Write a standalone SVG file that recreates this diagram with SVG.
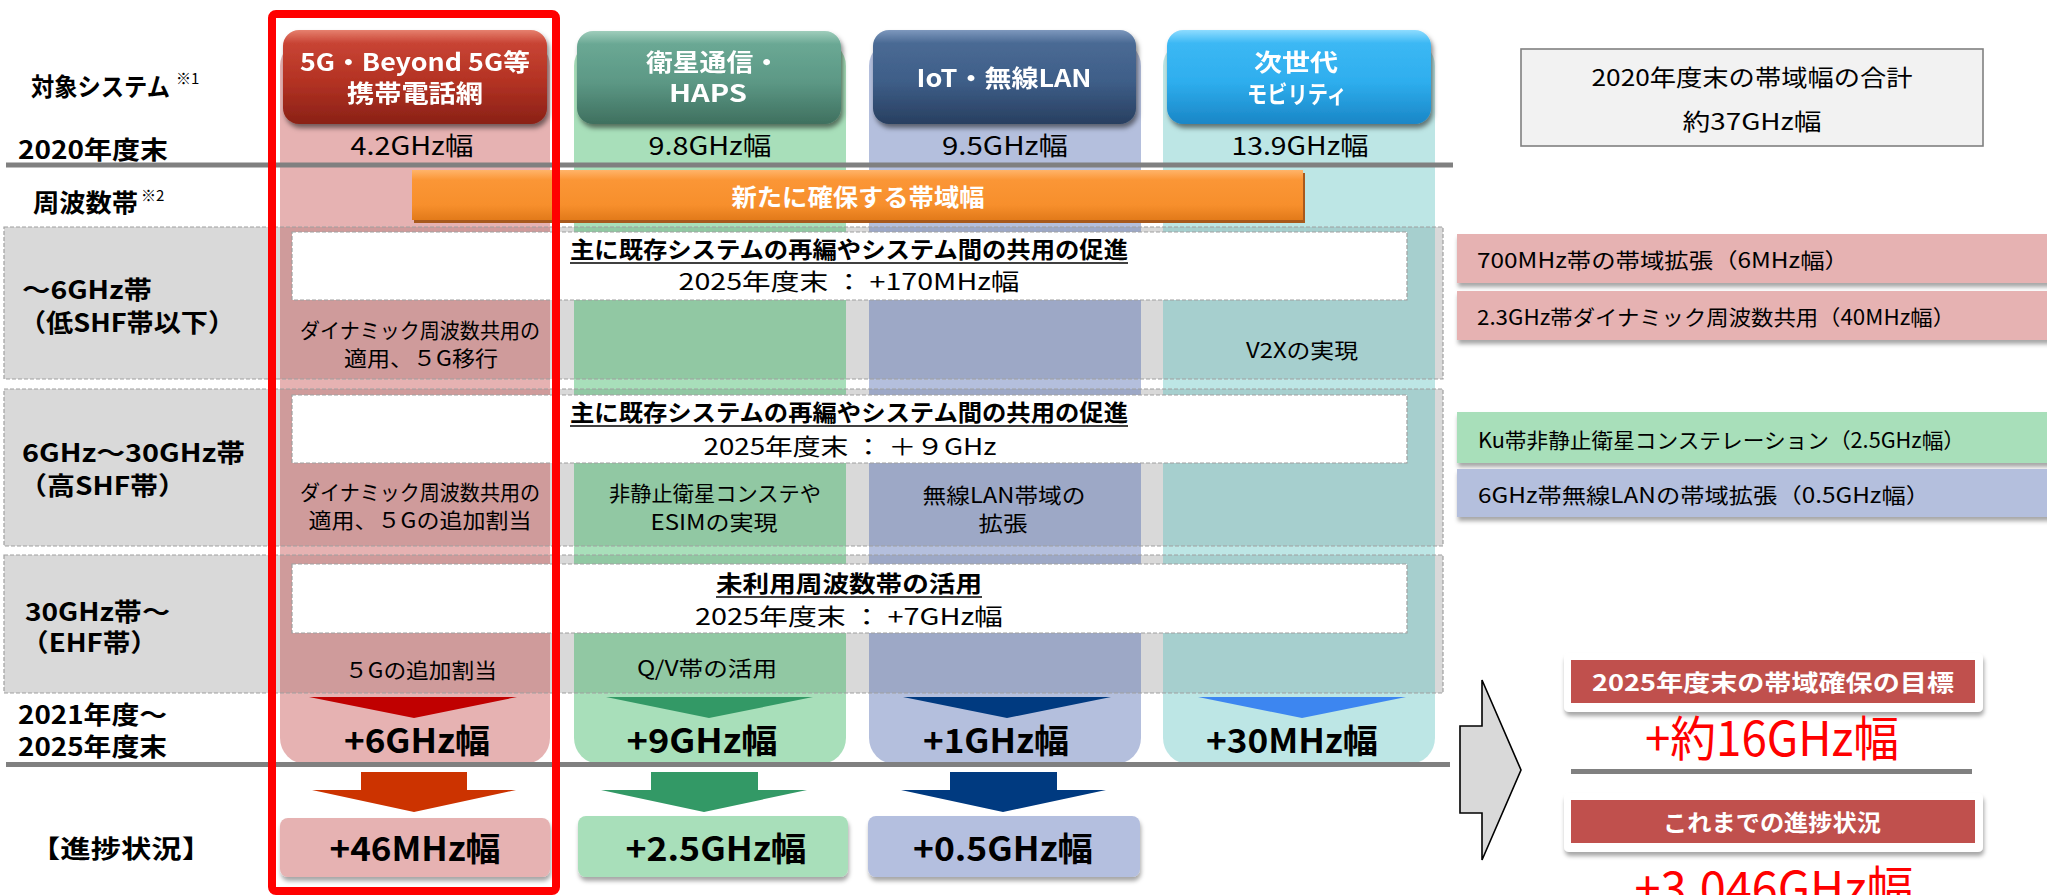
<svg xmlns="http://www.w3.org/2000/svg" width="2047" height="895" viewBox="0 0 2047 895">
<defs>
<style>
text{font-family:"Noto Sans CJK JP","Noto Sans",sans-serif}
.lbl{font-weight:700;font-size:25px;fill:#000}
.sup{font-size:15px;fill:#000}
.hdr{font-weight:700;font-size:24px;fill:#fff;text-anchor:middle}
.val{font-size:25px;fill:#000;text-anchor:middle}
.ct{font-size:21px;fill:#000;text-anchor:middle}
.tt{font-weight:700;font-size:23px;fill:#000;text-anchor:middle}
.t2{font-size:23px;fill:#000;text-anchor:middle}
.res{font-weight:700;font-size:33px;fill:#000;text-anchor:middle}
.side{font-size:21px;fill:#000}
.row{fill:#d9d9d9}
.rowb{fill:none;stroke:#a0a0a0;stroke-width:1.2;stroke-dasharray:4 2}
.wbox{fill:#fff;stroke:#a0a0a0;stroke-width:1.2;stroke-dasharray:4 2}
.ul{stroke:#000;stroke-width:1.6}
.gl{stroke:#808080;stroke-width:5}
.strip{fill-opacity:0.4}
.card{fill:#fff}
.bar{fill:#c0504d}
.wt{font-weight:700;font-size:23px;fill:#fff;text-anchor:middle}
.big{font-size:48px;fill:#ff0000;text-anchor:middle}
</style>
<linearGradient id="gR" x1="0" y1="0" x2="0" y2="1">
<stop offset="0" stop-color="#e6806e"/><stop offset="0.14" stop-color="#c84434"/><stop offset="0.55" stop-color="#b33223"/><stop offset="1" stop-color="#8a2116"/>
</linearGradient>
<linearGradient id="gG" x1="0" y1="0" x2="0" y2="1">
<stop offset="0" stop-color="#9fcdbb"/><stop offset="0.14" stop-color="#6aa894"/><stop offset="0.55" stop-color="#5c9885"/><stop offset="1" stop-color="#3f705f"/>
</linearGradient>
<linearGradient id="gN" x1="0" y1="0" x2="0" y2="1">
<stop offset="0" stop-color="#7d98bd"/><stop offset="0.14" stop-color="#4a6a94"/><stop offset="0.55" stop-color="#3e5e88"/><stop offset="1" stop-color="#283f60"/>
</linearGradient>
<linearGradient id="gB" x1="0" y1="0" x2="0" y2="1">
<stop offset="0" stop-color="#8edcff"/><stop offset="0.14" stop-color="#3cb8f4"/><stop offset="0.55" stop-color="#2eaeee"/><stop offset="1" stop-color="#1a86c6"/>
</linearGradient>
<linearGradient id="gO" x1="0" y1="0" x2="0" y2="1">
<stop offset="0" stop-color="#ffb46a"/><stop offset="0.2" stop-color="#fb9636"/><stop offset="0.7" stop-color="#f78f2c"/><stop offset="1" stop-color="#e27a1a"/>
</linearGradient>
<filter id="sh" x="-10%" y="-10%" width="130%" height="150%">
<feDropShadow dx="2" dy="4" stdDeviation="2.5" flood-color="#000" flood-opacity="0.5"/>
</filter>
<filter id="sh2" x="-5%" y="-10%" width="115%" height="150%">
<feDropShadow dx="1" dy="4" stdDeviation="2" flood-color="#000" flood-opacity="0.35"/>
</filter>
</defs>

<rect width="2047" height="895" fill="#fff"/>

<!-- band rows background -->
<g id="bands">
<rect class="row" x="4" y="227" width="1439" height="152"/>
<rect class="row" x="4" y="389" width="1439" height="157"/>
<rect class="row" x="4" y="555" width="1439" height="138"/>
</g>

<!-- column strips -->
<g id="strips">
<rect class="strip" x="280" y="40" width="270" height="724" rx="26" fill="#c03e3e"/>
<rect class="strip" x="574" y="40" width="272" height="724" rx="26" fill="#25af52"/>
<rect class="strip" x="869" y="40" width="272" height="724" rx="26" fill="#435faa"/>
<rect class="strip" x="1163" y="40" width="272" height="724" rx="26" fill="#5ac0be"/>
</g>

<g id="band-borders">
<rect class="rowb" x="4" y="227" width="1439" height="152"/>
<rect class="rowb" x="4" y="389" width="1439" height="157"/>
<rect class="rowb" x="4" y="555" width="1439" height="138"/>
</g>

<!-- horizontal separators -->
<line class="gl" x1="6" y1="165" x2="1453" y2="165"/>
<line class="gl" x1="6" y1="764.5" x2="1450" y2="764.5"/>

<!-- left labels -->
<g id="labels">
<text class="lbl" x="31" y="96" textLength="139" lengthAdjust="spacingAndGlyphs">対象システム</text>
<text class="sup" x="176" y="84">※1</text>
<text class="lbl" x="18" y="159" textLength="150" lengthAdjust="spacingAndGlyphs">2020年度末</text>
<text class="lbl" x="33" y="212" textLength="105" lengthAdjust="spacingAndGlyphs">周波数帯</text>
<text class="sup" x="141" y="201">※2</text>
<text class="lbl" x="22" y="299" textLength="130" lengthAdjust="spacingAndGlyphs">～6GHz帯</text>
<text class="lbl" x="19" y="332" textLength="216" lengthAdjust="spacingAndGlyphs">（低SHF帯以下）</text>
<text class="lbl" x="22" y="462" textLength="223" lengthAdjust="spacingAndGlyphs">6GHz～30GHz帯</text>
<text class="lbl" x="19" y="495" textLength="167" lengthAdjust="spacingAndGlyphs">（高SHF帯）</text>
<text class="lbl" x="25" y="621" textLength="145" lengthAdjust="spacingAndGlyphs">30GHz帯～</text>
<text class="lbl" x="21" y="652" textLength="137" lengthAdjust="spacingAndGlyphs">（EHF帯）</text>
<text class="lbl" x="18" y="724" textLength="149" lengthAdjust="spacingAndGlyphs">2021年度～</text>
<text class="lbl" x="18" y="756" textLength="149" lengthAdjust="spacingAndGlyphs">2025年度末</text>
<text class="lbl" x="30" y="858" font-size="28" textLength="182" lengthAdjust="spacingAndGlyphs">【進捗状況】</text>
</g>

<!-- headers -->
<g id="hdr-5g" filter="url(#sh)">
<rect x="283" y="30" width="264" height="94" rx="16" fill="url(#gR)"/>
<text class="hdr" x="415" y="71" textLength="230" lengthAdjust="spacingAndGlyphs">5G・Beyond 5G等</text>
<text class="hdr" x="415" y="102" textLength="136" lengthAdjust="spacingAndGlyphs">携帯電話網</text>
</g>
<g id="hdr-sat" filter="url(#sh)">
<rect x="577" y="31" width="264" height="93" rx="16" fill="url(#gG)"/>
<text class="hdr" x="713" y="71" textLength="134" lengthAdjust="spacingAndGlyphs">衛星通信・</text>
<text class="hdr" x="708" y="102" textLength="78" lengthAdjust="spacingAndGlyphs">HAPS</text>
</g>
<g id="hdr-iot" filter="url(#sh)">
<rect x="873" y="30" width="263" height="94" rx="16" fill="url(#gN)"/>
<text class="hdr" x="1004" y="87" textLength="175" lengthAdjust="spacingAndGlyphs">IoT・無線LAN</text>
</g>
<g id="hdr-mob" filter="url(#sh)">
<rect x="1167" y="30" width="264" height="94" rx="16" fill="url(#gB)"/>
<text class="hdr" x="1296" y="71" textLength="84" lengthAdjust="spacingAndGlyphs">次世代</text>
<text class="hdr" x="1297" y="103" textLength="100" lengthAdjust="spacingAndGlyphs">モビリティ</text>
</g>

<!-- 2020 values -->
<g id="values2020">
<text class="val" x="412" y="155" textLength="123" lengthAdjust="spacingAndGlyphs">4.2GHz幅</text>
<text class="val" x="710" y="155" textLength="123" lengthAdjust="spacingAndGlyphs">9.8GHz幅</text>
<text class="val" x="1005" y="155" textLength="126" lengthAdjust="spacingAndGlyphs">9.5GHz幅</text>
<text class="val" x="1300" y="155" textLength="137" lengthAdjust="spacingAndGlyphs">13.9GHz幅</text>
</g>

<!-- orange bar -->
<g id="new-band">
<rect x="414" y="173" width="891" height="50" fill="#a8591c"/>
<rect x="412" y="170" width="891" height="50" fill="url(#gO)"/>
<text x="858" y="206" font-size="24" font-weight="700" fill="#fff" text-anchor="middle" textLength="253" lengthAdjust="spacingAndGlyphs">新たに確保する帯域幅</text>
</g>

<!-- row 1 -->
<g id="row1">
<rect class="wbox" x="292" y="232" width="1115" height="68"/>
<text class="tt" x="849" y="258" textLength="558" lengthAdjust="spacingAndGlyphs">主に既存システムの再編やシステム間の共用の促進</text>
<line class="ul" x1="570" y1="263" x2="1128" y2="263"/>
<text class="t2" x="849" y="290" textLength="341" lengthAdjust="spacingAndGlyphs">2025年度末 ： +170MHz幅</text>
<text class="ct" x="420" y="338" textLength="240" lengthAdjust="spacingAndGlyphs">ダイナミック周波数共用の</text>
<text class="ct" x="421" y="366" textLength="154" lengthAdjust="spacingAndGlyphs">適用、５G移行</text>
<text class="ct" x="1302" y="358" textLength="112" lengthAdjust="spacingAndGlyphs">V2Xの実現</text>
</g>

<!-- row 2 -->
<g id="row2">
<rect class="wbox" x="292" y="395" width="1115" height="68"/>
<text class="tt" x="849" y="421" textLength="558" lengthAdjust="spacingAndGlyphs">主に既存システムの再編やシステム間の共用の促進</text>
<line class="ul" x1="570" y1="426" x2="1128" y2="426"/>
<text class="t2" x="850" y="455" textLength="293" lengthAdjust="spacingAndGlyphs">2025年度末 ： ＋９GHz</text>
<text class="ct" x="420" y="500" textLength="240" lengthAdjust="spacingAndGlyphs">ダイナミック周波数共用の</text>
<text class="ct" x="420" y="528" textLength="223" lengthAdjust="spacingAndGlyphs">適用、５Gの追加割当</text>
<text class="ct" x="715" y="501" textLength="212" lengthAdjust="spacingAndGlyphs">非静止衛星コンステや</text>
<text class="ct" x="714" y="530" textLength="127" lengthAdjust="spacingAndGlyphs">ESIMの実現</text>
<text class="ct" x="1004" y="503" textLength="163" lengthAdjust="spacingAndGlyphs">無線LAN帯域の</text>
<text class="ct" x="1003" y="531" textLength="49" lengthAdjust="spacingAndGlyphs">拡張</text>
</g>

<!-- row 3 -->
<g id="row3">
<rect class="wbox" x="292" y="564" width="1115" height="69"/>
<text class="tt" x="849" y="592" textLength="266" lengthAdjust="spacingAndGlyphs">未利用周波数帯の活用</text>
<line class="ul" x1="716" y1="597" x2="982" y2="597"/>
<text class="t2" x="849" y="625" textLength="308" lengthAdjust="spacingAndGlyphs">2025年度末 ： +7GHz幅</text>
<text class="ct" x="421" y="678" textLength="152" lengthAdjust="spacingAndGlyphs">５Gの追加割当</text>
<text class="ct" x="707" y="676" textLength="140" lengthAdjust="spacingAndGlyphs">Q/V帯の活用</text>
</g>

<!-- connectors: triangles and block arrows -->
<g id="connectors">
<polygon points="309,697 517,697 414,718" fill="#c00000"/>
<polygon points="606,697 813,697 709,718" fill="#339966"/>
<polygon points="903,697 1111,697 1007,718" fill="#003a80"/>
<polygon points="1198,697 1406,697 1302,718" fill="#3d86f0"/>
<polygon points="361,772 467,772 467,790 516,790 414,812 312,790 361,790" fill="#cc3300"/>
<polygon points="651,772 758,772 758,790 807,790 704,812 601,790 651,790" fill="#339966"/>
<polygon points="950,772 1057,772 1057,790 1106,790 1003,812 901,790 950,790" fill="#003a80"/>
<polygon points="1460,726 1482,726 1482,680 1521,770 1482,860 1482,813 1460,813" fill="#d9d9d9" stroke="#000" stroke-width="1.6"/>
</g>

<!-- 2021-2025 results -->
<g id="results">
<text class="res" x="417" y="753" textLength="146" lengthAdjust="spacingAndGlyphs">+6GHz幅</text>
<text class="res" x="702" y="753" textLength="151" lengthAdjust="spacingAndGlyphs">+9GHz幅</text>
<text class="res" x="996" y="753" textLength="146" lengthAdjust="spacingAndGlyphs">+1GHz幅</text>
<text class="res" x="1292" y="753" textLength="172" lengthAdjust="spacingAndGlyphs">+30MHz幅</text>
</g>

<!-- progress boxes -->
<g id="prog-5g">
<rect x="280" y="818" width="270" height="59" rx="8" fill="#e6b2b2" filter="url(#sh2)"/>
<text class="res" x="415" y="861" textLength="171" lengthAdjust="spacingAndGlyphs">+46MHz幅</text>
</g>
<g id="prog-sat">
<rect x="578" y="816" width="270" height="61" rx="8" fill="#a8dfba" filter="url(#sh2)"/>
<text class="res" x="716" y="861" textLength="181" lengthAdjust="spacingAndGlyphs">+2.5GHz幅</text>
</g>
<g id="prog-iot">
<rect x="868" y="816" width="272" height="61" rx="8" fill="#b4bfdf" filter="url(#sh2)"/>
<text class="res" x="1003" y="861" textLength="180" lengthAdjust="spacingAndGlyphs">+0.5GHz幅</text>
</g>

<!-- red highlight frame -->
<rect id="highlight" x="272" y="14" width="284" height="877" rx="4" fill="none" stroke="#ff0000" stroke-width="8"/>

<!-- right side -->
<g id="total2020">
<rect x="1521" y="49" width="462" height="97" fill="#f2f2f2" stroke="#808080" stroke-width="1.6"/>
<text class="t2" x="1752" y="86" font-size="22" textLength="321" lengthAdjust="spacingAndGlyphs">2020年度末の帯域幅の合計</text>
<text class="t2" x="1752" y="130" font-size="22" textLength="139" lengthAdjust="spacingAndGlyphs">約37GHz幅</text>
</g>
<g id="item-700">
<rect x="1457" y="234" width="600" height="49" fill="#e6b2b2" filter="url(#sh2)"/>
<text class="side" x="1477" y="268" textLength="372" lengthAdjust="spacingAndGlyphs">700MHz帯の帯域拡張（6MHz幅）</text>
</g>
<g id="item-23">
<rect x="1457" y="291" width="600" height="49" fill="#e6b2b2" filter="url(#sh2)"/>
<text class="side" x="1477" y="325" textLength="478" lengthAdjust="spacingAndGlyphs">2.3GHz帯ダイナミック周波数共用（40MHz幅）</text>
</g>
<g id="item-ku">
<rect x="1457" y="412" width="600" height="51" fill="#a8dfba" filter="url(#sh2)"/>
<text class="side" x="1478" y="448" textLength="487" lengthAdjust="spacingAndGlyphs">Ku帯非静止衛星コンステレーション（2.5GHz幅）</text>
</g>
<g id="item-6g">
<rect x="1457" y="469" width="600" height="48" fill="#b4bfdd" filter="url(#sh2)"/>
<text class="side" x="1478" y="503" textLength="452" lengthAdjust="spacingAndGlyphs">6GHz帯無線LANの帯域拡張（0.5GHz幅）</text>
</g>
<g id="goal">
<rect class="card" x="1564" y="653" width="419" height="59" rx="5" filter="url(#sh2)"/>
<rect class="bar" x="1571" y="660" width="404" height="43"/>
<text class="wt" x="1773" y="691" textLength="362" lengthAdjust="spacingAndGlyphs">2025年度末の帯域確保の目標</text>
<text class="big" x="1772" y="756" textLength="254" lengthAdjust="spacingAndGlyphs">+約16GHz幅</text>
</g>
<line class="gl" x1="1571" y1="771.5" x2="1972" y2="771.5"/>
<g id="progress-total">
<rect class="card" x="1564" y="793" width="419" height="59" rx="5" filter="url(#sh2)"/>
<rect class="bar" x="1571" y="800" width="404" height="43"/>
<text class="wt" x="1772" y="831" textLength="218" lengthAdjust="spacingAndGlyphs">これまでの進捗状況</text>
<text class="big" x="1774" y="906" textLength="279" lengthAdjust="spacingAndGlyphs">+3.046GHz幅</text>
</g>
</svg>
